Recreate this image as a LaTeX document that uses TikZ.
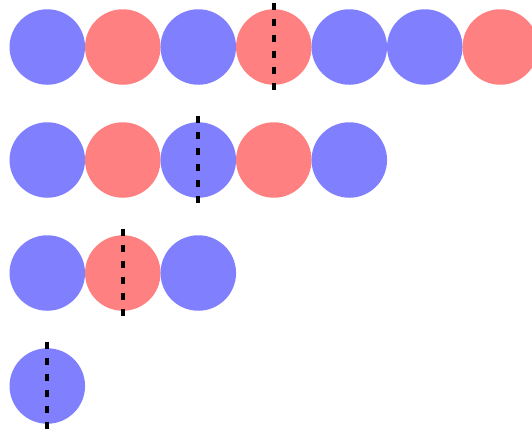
\documentclass[tikz,border=0pt]{standalone}
\usepackage{xcolor}
\usetikzlibrary{positioning}
\definecolor{ballblue}{HTML}{8080FF}
\definecolor{ballred}{HTML}{FF8080}

\begin{document}
\begin{tikzpicture}[x=1pt,y=-1pt,
	ball/.style={circle,minimum size=75.5pt,inner sep=0pt,draw=none},
	cut/.style={line width=4pt,dash pattern=on 7.5pt off 8.5pt}]
	
	\useasboundingbox (0,0) rectangle (532,432);
	
	% rows of balls
	\foreach \c [count=\i] in {ballblue,ballred,ballblue,ballred,ballblue,ballblue,ballred}
	\node[ball,fill=\c] (ra\i) at ({47.3+75.5*(\i-1)},47) {};
	
	\foreach \c [count=\i] in {ballblue,ballred,ballblue,ballred,ballblue}
	\node[ball,fill=\c] (rb\i) at ({47.3+75.5*(\i-1)},160) {};
	
	\foreach \c [count=\i] in {ballblue,ballred,ballblue}
	\node[ball,fill=\c] (rc\i) at ({47.3+75.5*(\i-1)},273) {};
	
	\node[ball,fill=ballblue] (rd1) at (47.3,386) {};
	
	% cuts
	\foreach \b in {ra4,rb3,rc2,rd1}
	\draw[cut] ([yshift=6.5pt]\b.north) -- ([yshift=-5.5pt]\b.south);
	
\end{tikzpicture}
\end{document}
